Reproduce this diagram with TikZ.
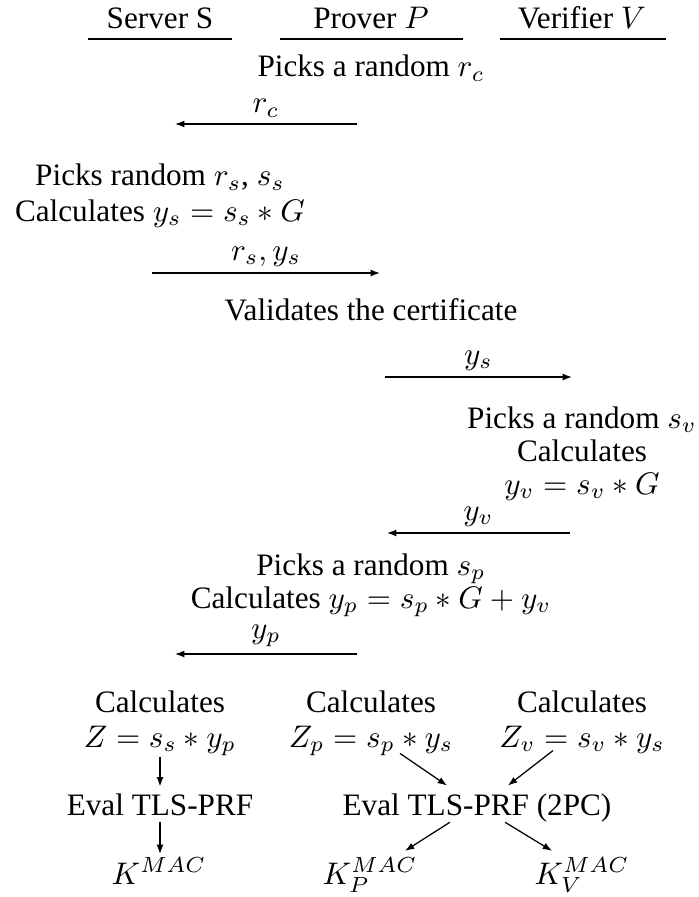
\documentclass[tikz,border=0pt]{standalone}
\usepackage{fontspec}
\setmainfont{Liberation Serif}
\usetikzlibrary{arrows.meta}

\begin{document}
\begin{tikzpicture}[
            x=0.3205pt, y=-0.3205pt,
            txt/.style={anchor=base, inner sep=0pt},
            msg/.style={-{Latex[length=3pt, width=2.2pt]}},
            lbl/.style={above, inner sep=2pt},
            hrule/.style={line width=0.5pt}
        ]
        \useasboundingbox (0,0) rectangle (698,897);

        % --- header ---
        \node[txt] (Sh) at (160,29) {Server S};
        \node[txt] (Ph) at (371,29) {Prover $P$};
        \node[txt] (Vh) at (582,29) {Verifier $V$};
        \draw[hrule] (88,39) -- (232,39);
        \draw[hrule] (280,39) -- (463,39);
        \draw[hrule] (500,39) -- (666,39);

        % --- client hello ---
        \node[txt] (Prc) at (371,77) {Picks a random $r_c$};
        \coordinate (rcA) at (357,124);
        \coordinate (rcB) at (175,124);
        \draw[msg] (rcA) -- node[lbl] {$r_c$} (rcB);

        % --- server hello ---
        \node[txt] (Srs) at (160,186) {Picks random $r_s$, $s_s$};
        \node[txt] (Sys) at (160,221) {Calculates $y_s = s_s * G$};
        \coordinate (rsA) at (152,273);
        \coordinate (rsB) at (380,273);
        \draw[msg] (rsA) -- node[lbl] {$r_s, y_s$} (rsB);

        \node[txt] (Pcert) at (371,320) {Validates the certificate};
        \coordinate (ysA) at (385,377);
        \coordinate (ysB) at (572,377);
        \draw[msg] (ysA) -- node[lbl] {$y_s$} (ysB);

        % --- verifier share ---
        \node[txt] (Vsv) at (582,428) {Picks a random $s_v$};
        \node[txt] (Vcl) at (582,461) {Calculates};
        \node[txt] (Vyv) at (582,494) {$y_v = s_v * G$};
        \coordinate (yvA) at (570,533);
        \coordinate (yvB) at (387,533);
        \draw[msg] (yvA) -- node[lbl] {$y_v$} (yvB);

        % --- prover share ---
        \node[txt] (Psp) at (371,575) {Picks a random $s_p$};
        \node[txt] (Pyp) at (371,608) {Calculates $y_p = s_p * G + y_v$};
        \coordinate (ypA) at (357,654);
        \coordinate (ypB) at (175,654);
        \draw[msg] (ypA) -- node[lbl] {$y_p$} (ypB);

        % --- key derivation ---
        \node[txt] (Scl) at (160,712) {Calculates};
        \node[txt] (Pcl) at (371,712) {Calculates};
        \node[txt] (Vcz) at (582,712) {Calculates};
        \node[txt] (Zs) at (160,747) {$Z = s_s * y_p$};
        \node[txt] (Zp) at (371,747) {$Z_p = s_p * y_s$};
        \node[txt] (Zv) at (582,747) {$Z_v = s_v * y_s$};

        \node[txt, inner sep=2pt] (Es) at (160,815) {Eval TLS-PRF};
        \node[txt, inner sep=1pt] (Epc) at (477,815) {Eval TLS-PRF (2PC)};

        \node[txt, inner sep=1pt] (Ks) at (159,884) {$K^{MAC}$};
        \node[txt] (Kp) at (370,884) {$K_P^{MAC}$};
        \node[txt] (Kv) at (582,884) {$K_V^{MAC}$};

        \draw[msg] (Zs.south) -- (Es.north);
        \draw[msg] (Es.south) -- (Es.south |- Ks.north);
        \draw[msg] ([xshift=9.3pt, yshift=1pt]Zp.south) -- ([xshift=-9.6pt, yshift=1.3pt]Epc.north);
        \draw[msg] ([xshift=-9.3pt, yshift=1pt]Zv.south) -- ([xshift=9.9pt, yshift=1.3pt]Epc.north);
        \draw[msg] ([xshift=-8.7pt, yshift=1pt]Epc.south) -- ([xshift=11.2pt, yshift=2pt]Kp.north);
        \draw[msg] ([xshift=9pt, yshift=1pt]Epc.south) -- ([xshift=-9.6pt, yshift=2pt]Kv.north);
        \end{tikzpicture}
\end{document}
